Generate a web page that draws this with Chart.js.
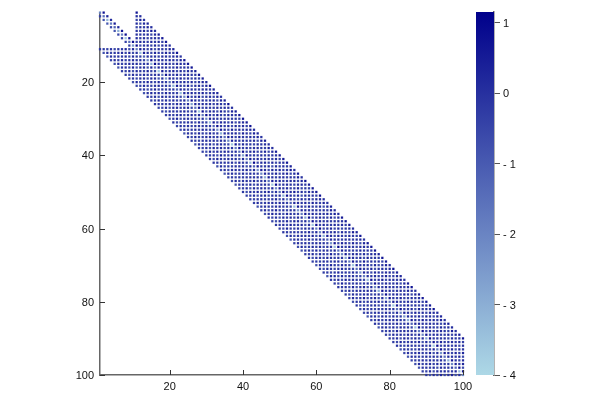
<!DOCTYPE html>
<html><head><meta charset="utf-8">
<script src="https://cdn.jsdelivr.net/npm/chart.js@4"></script>
<style>html,body{margin:0;padding:0;background:#fff;width:600px;height:400px;overflow:hidden}
canvas{position:absolute;left:0;top:0}</style></head>
<body><canvas id="main" width="600" height="400"></canvas><canvas id="bar" width="600" height="400"></canvas>
<script>
const axisTicks = [20, 40, 60, 80, 100];
const colorTicks = [1, 0, -1, -2, -3, -4];
const colorRange = [-4, 1.15];
const bandOffsets = [-10,-9,-8,-7,-6,-5,-4,-3,-2,-1,0,1,2,3,4,5,6,7,8,9,10];
const bandValues  = [-0.5,-0.3,-0.2,-0.4,-0.1,-0.3,-0.2,-0.1,-0.4,-0.2,-2.4,0.5,-0.3,-0.2,0.0,-0.4,-0.1,-0.2,-0.3,0.0,0.3];
const rowTweak = [0.1,0.3,-0.3,0.2,0.4,-0.2,0.1,-0.4,0.3,0.0,0.2,-0.3,0.4,0.1,-0.2,0.3,-0.4,0.2,0.0,0.3,
 -0.2,0.4,-0.3,0.1,0.2,-0.1,0.3,-0.4,0.2,0.1,-0.3,0.4,0.0,-0.2,0.3,0.1,-0.4,0.2,0.3,-0.1,
 0.2,-0.3,0.4,0.0,0.1,-0.2,0.3,-0.4,0.1,0.3,-0.2,0.2,0.4,-0.3,0.0,0.2,-0.1,0.3,-0.4,0.2,
 0.1,-0.2,0.4,0.0,-0.3,0.3,0.1,-0.1,0.2,-0.4,0.3,0.0,0.2,-0.3,0.4,0.1,-0.2,0.3,-0.1,0.2,
 -0.4,0.3,0.1,0.0,-0.2,0.4,-0.3,0.2,0.1,-0.1,0.3,-0.4,0.2,0.0,0.3,-0.2,0.1,0.4,-0.3,0.1];
const cornerRows = [1,2,3,4,5,6,7,8,9,10];
const cornerOffsets = [-1,0,1];
const cornerValues = [-0.6,-2.4,0.5];
const upperBlockFirstColumn = 11;

const lo=[173,216,230], hi=[0,0,139];
function colorOf(v){
  const t=Math.max(0,Math.min(1,(v-colorRange[0])/(colorRange[1]-colorRange[0])));
  const c=lo.map((a,i)=>Math.round(a+(hi[i]-a)*t));
  return `rgb(${c[0]},${c[1]},${c[2]})`;
}
const cells=[];
function add(i,j,v,d){ if(j>=1&&j<=100) cells.push({x:j,y:i,v:v+(d===0?rowTweak[i-1]*3:rowTweak[(i+j)%100])}); }
for(let i=1;i<=100;i++){
  if(cornerRows.includes(i)){
    cornerOffsets.forEach((d,k)=>add(i,i+d,cornerValues[k],d));
    bandOffsets.forEach((d,k)=>{ if(i+d>=upperBlockFirstColumn && !(d===1&&i===10)) add(i,i+d,bandValues[k],d); });
  } else bandOffsets.forEach((d,k)=>add(i,i+d,bandValues[k],d));
}
Chart.defaults.font.family='"Liberation Sans",Arial,sans-serif';
Chart.defaults.font.size=11;
Chart.defaults.color='#111';
const inwardTicks={id:'inwardTicks',afterDatasetsDraw(c){
  const g=c.ctx,a=c.chartArea;g.save();g.strokeStyle='#333';g.lineWidth=1;g.beginPath();
  axisTicks.forEach(t=>{const x=Math.round(c.scales.x.getPixelForValue(t))+.5,y=Math.round(c.scales.y.getPixelForValue(t))+.5;
    g.moveTo(x,a.bottom);g.lineTo(x,a.bottom-5);g.moveTo(a.left,y);g.lineTo(a.left+5,y);});
  g.stroke();g.restore();}};
const spine={color:'#666',width:1.5};
new Chart(document.getElementById('main'),{type:'scatter',
 data:{datasets:[{data:cells,pointStyle:'rect',pointRadius:1.6,pointBorderWidth:0,
   pointBackgroundColor:cells.map(p=>colorOf(p.v)),clip:false}]},
 options:{responsive:false,animation:false,events:[],
  layout:{padding:{left:0,top:12,right:137,bottom:0}},
  plugins:{legend:{display:false},tooltip:{enabled:false}},
  scales:{
   x:{type:'linear',min:1,max:100,afterBuildTicks:s=>{s.ticks=axisTicks.map(v=>({value:v}))},
      afterFit:s=>{s.height=25},border:spine,grid:{drawOnChartArea:false,drawTicks:false},
      ticks:{maxRotation:0,padding:5,autoSkip:false}},
   y:{type:'linear',reverse:true,min:1,max:100,afterBuildTicks:s=>{s.ticks=axisTicks.map(v=>({value:v}))},
      afterFit:s=>{s.width=100},border:spine,grid:{drawOnChartArea:false,drawTicks:false},
      ticks:{padding:6,autoSkip:false,labelOffset:1}}
  }},plugins:[inwardTicks]});
new Chart(document.getElementById('bar'),{type:'bar',
 data:{labels:['c'],datasets:[{data:[colorRange],barPercentage:1,categoryPercentage:1,borderWidth:0,borderSkipped:false,
   backgroundColor:(ctx)=>{const a=ctx.chart.chartArea;if(!a)return '#000';
     const g=ctx.chart.ctx.createLinearGradient(0,a.bottom,0,a.top);
     g.addColorStop(0,colorOf(colorRange[0]));g.addColorStop(1,colorOf(colorRange[1]));return g;}}]},
 options:{responsive:false,animation:false,events:[],
  layout:{padding:{left:476,top:12,right:0,bottom:25}},
  plugins:{legend:{display:false},tooltip:{enabled:false}},
  scales:{
   x:{display:false},
   y:{position:'right',min:colorRange[0],max:colorRange[1],
      afterBuildTicks:s=>{s.ticks=colorTicks.map(v=>({value:v}))},
      afterFit:s=>{s.width=106},border:{color:'#666',width:1.5},
      grid:{drawOnChartArea:false,drawTicks:true,tickLength:6,color:'#555'},
      ticks:{padding:3,autoSkip:false,labelOffset:1,callback:v=>v<0?'- '+Math.abs(v):String(v)}}
  }}});
</script></body></html>
